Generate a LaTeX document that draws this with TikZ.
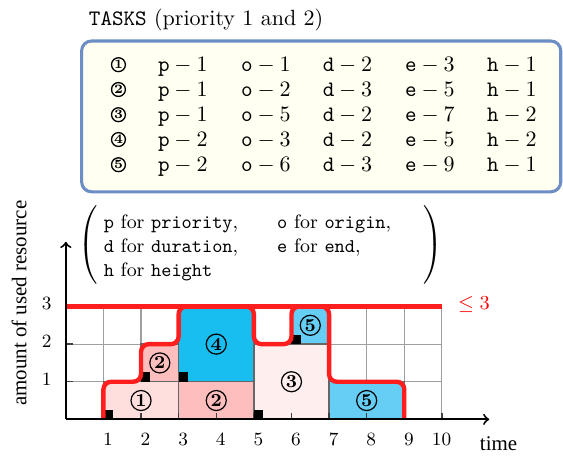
\documentclass[tikz,border=0pt]{standalone}
\usepackage{fontspec}
\newfontfamily\timesf{Liberation Serif}
\newfontfamily\lmtt{lmmono10-regular.otf}
\definecolor{boxfill}{RGB}{255,255,242}
\definecolor{boxline}{RGB}{108,142,196}
\definecolor{tone}{RGB}{255,222,222}
\definecolor{ttwo}{RGB}{255,190,190}
\definecolor{tthree}{RGB}{255,238,238}
\definecolor{tfour}{RGB}{24,190,240}
\definecolor{tfive}{RGB}{102,206,245}
\definecolor{capred}{RGB}{255,30,30}
\newcommand{\lt}[1]{{\lmtt #1}}
\tikzset{
  tbl/.style={anchor=base, inner sep=0pt, font=\fontsize{10}{12}\selectfont},
  cnum/.style={circle, draw, line width=0.55pt, inner sep=0pt, minimum size=9.1pt,
    font=\fontsize{8.3}{9}\selectfont\bfseries},
  tcnum/.style={cnum, minimum size=6.3pt, line width=0.6pt, font=\fontsize{5.8}{7}\selectfont\bfseries},
  leg/.style={anchor=base west, inner sep=0pt, font=\fontsize{8.8}{10}\selectfont},
  gridl/.style={gray!75, line width=0.5pt},
  taskbox/.style={draw=gray!80!black, line width=0.6pt},
  tickl/.style={black!75, line width=0.6pt},
  axisl/.style={black, line width=0.9pt, ->},
  profile/.style={capred, line width=2pt, rounded corners=3.5pt},
  ticklab/.style={inner sep=0pt, font=\fontsize{8.5}{10}\selectfont},
  axlab/.style={inner sep=0pt, font=\timesf\fontsize{9.5}{11}\selectfont}
}
\begin{document}
\begin{tikzpicture}[x=0.6cm,y=0.6cm]
\useasboundingbox (-1.75,-1.08) rectangle (13.22,11.15);

% title
\node[anchor=base, inner sep=0pt, font=\fontsize{10}{12}\selectfont] (title) at (3.73,10.46)
  {\texttt{TASKS} (priority 1 and 2)};

% table box
\draw[boxline, line width=1.4pt, fill=boxfill, rounded corners=4.5pt] (0.42,6.05) rectangle (13.16,10.06);
\foreach \r/\y/\vp/\vo/\vd/\ve/\vh in {1/9.24/1/1/2/3/1, 2/8.58/1/2/3/5/1, 3/7.91/1/5/2/7/2, 4/7.25/2/3/2/5/2, 5/6.58/2/6/3/9/1} {
  \node[tcnum] (n\r) at (1.40,\y+0.19) {\r};
  \node[tbl] (p\r) at (3.11,\y) {$\texttt{p}-\vp$};
  \node[tbl] (o\r) at (5.32,\y) {$\texttt{o}-\vo$};
  \node[tbl] (d\r) at (7.49,\y) {$\texttt{d}-\vd$};
  \node[tbl] (e\r) at (9.68,\y) {$\texttt{e}-\ve$};
  \node[tbl] (h\r) at (11.86,\y) {$\texttt{h}-\vh$};
}

% legend
\node[inner sep=0pt] (lp) at (0.62,4.64) {$\left(\vcenter{\vskip 36pt}\right.$};
\node[inner sep=0pt] (rp) at (9.73,4.64) {$\left.\vcenter{\vskip 36pt}\right)$};
\node[leg] (l1) at (1.0,5.08) {\lt{p} for \lt{priority},};
\node[leg] (l2) at (5.61,5.08) {\lt{o} for \lt{origin},};
\node[leg] (l3) at (1.0,4.44) {\lt{d} for \lt{duration},};
\node[leg] (l4) at (5.61,4.44) {\lt{e} for \lt{end},};
\node[leg] (l5) at (1.0,3.81) {\lt{h} for \lt{height}};

% grid
\foreach \i in {1,...,10} \draw[gridl] (\i,0) -- (\i,3);
\foreach \j in {1,2} \draw[gridl] (0,\j) -- (10,\j);

% tasks
\filldraw[taskbox, fill=tone] (1,0) rectangle (3,1);
\filldraw[taskbox, fill=ttwo] (2,1) rectangle (3,2);
\filldraw[taskbox, fill=ttwo] (3,0) rectangle (5,1);
\filldraw[taskbox, fill=tfour] (3,1) rectangle (5,3);
\filldraw[taskbox, fill=tthree] (5,0) rectangle (7,2);
\filldraw[taskbox, fill=tfive] (6,2) rectangle (7,3);
\filldraw[taskbox, fill=tfive] (7,0) rectangle (9,1);

% ticks
\foreach \i in {1,...,10} \draw[tickl] (\i,0) -- (\i,0.18);
\foreach \i in {1,2} \draw[tickl] (0,\i) -- (0.18,\i);

% origin squares
\foreach \a/\b in {1/0, 2/1, 3/1, 5/0, 6/2} \fill[black] (\a,\b) rectangle ++(0.25,0.25);

% task labels
\node[cnum] (k1) at (2,0.5) {1};
\node[cnum] (k2a) at (2.5,1.5) {2};
\node[cnum] (k2b) at (4,0.5) {2};
\node[cnum] (k4) at (4,2) {4};
\node[cnum] (k3) at (6,1) {3};
\node[cnum] (k5a) at (6.5,2.5) {5};
\node[cnum] (k5b) at (8,0.5) {5};

% capacity and profile
\draw[capred, line width=2pt] (0,3) -- (10,3);
\draw[profile] (1,0) |- (2,1) |- (3,2) |- (5,3) |- (6,2) |- (7,3) |- (9,1) -- (9,0);
\node[text=red, inner sep=0pt, font=\fontsize{9}{11}\selectfont] (le) at (10.85,3.04) {$\leq 3$};

% axes
\coordinate (O) at (0,0);
\coordinate (xend) at (11.26,0);
\coordinate (yend) at (0,4.72);
\draw[axisl] (O) -- (xend);
\draw[axisl] (O) -- (yend);

\foreach \i in {1,...,10} \node[ticklab, anchor=north east] (x\i) at (\i+0.26,-0.36) {\i};
\foreach \i in {1,2,3} \node[ticklab, anchor=east] (y\i) at (-0.37,\i+0.07) {\i};

\node[axlab, anchor=west] (tl) at (11.0,-0.66) {time};
\node[axlab, rotate=90] (al) at (-1.245,3.09) {amount of used resource};
\end{tikzpicture}
\end{document}
